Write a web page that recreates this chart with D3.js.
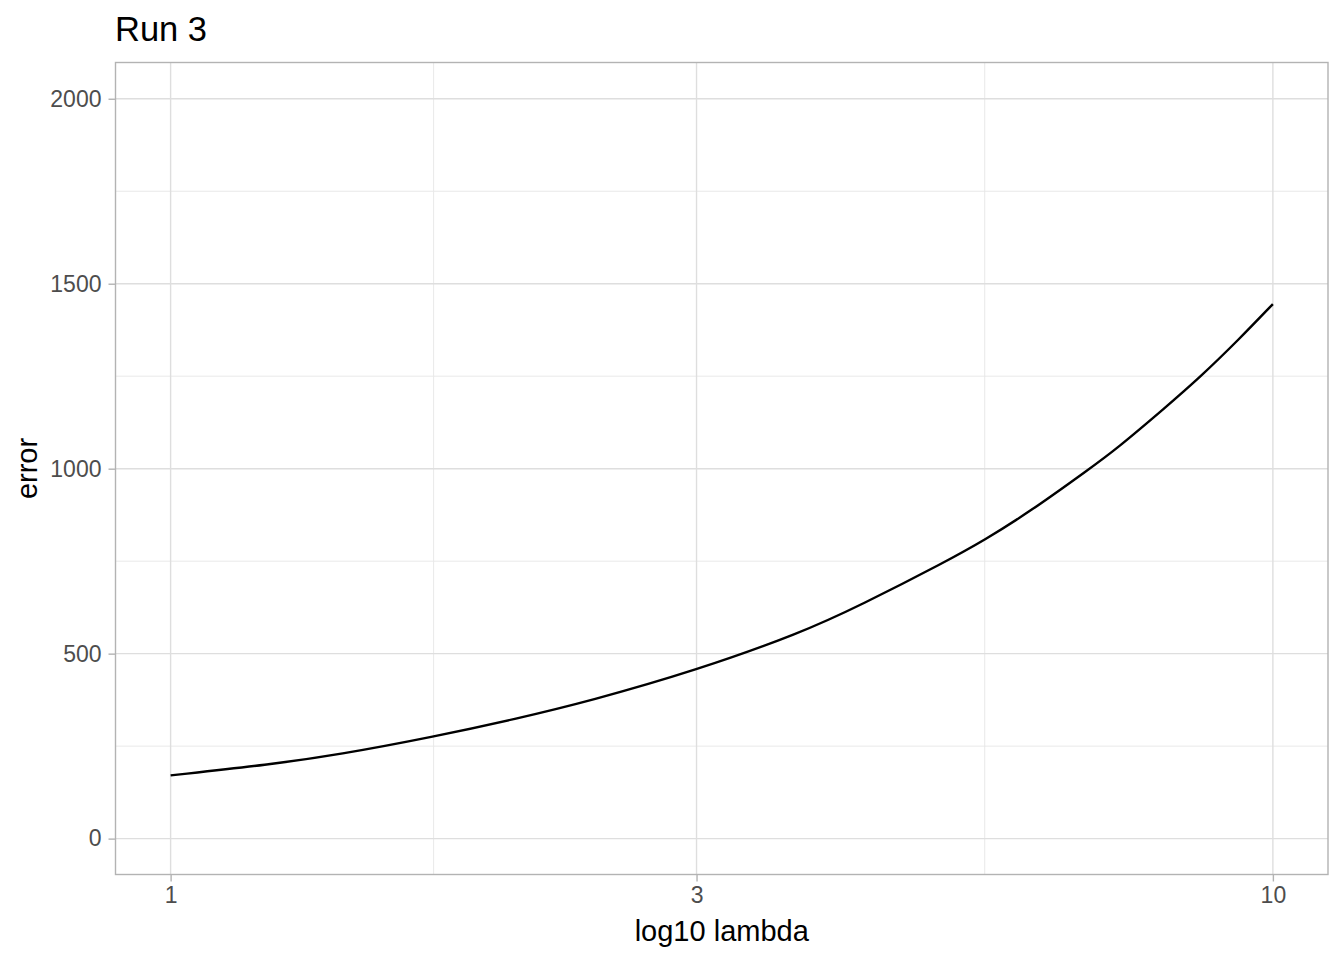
<!DOCTYPE html>
<html>
<head>
<meta charset="utf-8">
<script src="https://cdn.jsdelivr.net/npm/d3@7"></script>
<style>
  body { margin: 0; background: #fff; }
  text { font-family: "Liberation Sans", Arial, sans-serif; }
</style>
</head>
<body>
<div id="chart"></div>
<script>
// values
var lambdas = [1.00, 1.23, 1.42, 1.73, 2.06, 2.40, 3.00, 3.73, 4.22, 5.06, 5.48, 5.98, 6.82, 7.21, 8.00, 8.58, 9.32, 10.0];
var errors  = [171, 200, 227, 275, 324, 372, 455, 556, 630, 750, 808, 878, 1000, 1053, 1167, 1246, 1350, 1445];
var xTicks = [1, 3, 10];
var xMinor = [Math.sqrt(3), Math.sqrt(30)];
var yTicks = [0, 500, 1000, 1500, 2000];
var yMinor = [250, 750, 1250, 1750];
var title = "Run 3";
var xTitle = "log10 lambda";
var yTitle = "error";

var svgWidth = 1344;
var svgHeight = 960;

var panel = { left: 115.5, top: 62.5, right: 1328, bottom: 874.5 };

var svg = d3.select("#chart")
  .append("svg")
  .attr("width", svgWidth)
  .attr("height", svgHeight);

var data = lambdas.map(function(l, i) {
  return { lambda: l, error: errors[i] };
});

// ggplot-style 5% expansion on the log axis
var xLinearScale = d3.scaleLog()
  .domain([Math.pow(10, -0.05), Math.pow(10, 1.05)])
  .range([panel.left, panel.right]);

var yLinearScale = d3.scaleLinear()
  .domain([-97, 2098])
  .range([panel.bottom, panel.top]);

var grid = svg.append("g");

grid.selectAll(".ymin").data(yMinor).enter().append("line")
  .attr("x1", panel.left).attr("x2", panel.right)
  .attr("y1", d => yLinearScale(d)).attr("y2", d => yLinearScale(d))
  .attr("stroke", "#e6e6e6").attr("stroke-width", 0.9);

grid.selectAll(".xmin").data(xMinor).enter().append("line")
  .attr("y1", panel.top).attr("y2", panel.bottom)
  .attr("x1", d => xLinearScale(d)).attr("x2", d => xLinearScale(d))
  .attr("stroke", "#e6e6e6").attr("stroke-width", 0.9);

grid.selectAll(".ymaj").data(yTicks).enter().append("line")
  .attr("x1", panel.left).attr("x2", panel.right)
  .attr("y1", d => yLinearScale(d)).attr("y2", d => yLinearScale(d))
  .attr("stroke", "#dedede").attr("stroke-width", 1.4);

grid.selectAll(".xmaj").data(xTicks).enter().append("line")
  .attr("y1", panel.top).attr("y2", panel.bottom)
  .attr("x1", d => xLinearScale(d)).attr("x2", d => xLinearScale(d))
  .attr("stroke", "#dedede").attr("stroke-width", 1.4);

// basis curve evens out the small reading errors
var line = d3.line()
  .x(d => xLinearScale(d.lambda))
  .y(d => yLinearScale(d.error))
  .curve(d3.curveBasis);

svg.append("path")
  .datum(data)
  .attr("d", line)
  .attr("fill", "none")
  .attr("stroke", "#000")
  .attr("stroke-width", 2.4);

svg.append("rect")
  .attr("x", panel.left)
  .attr("y", panel.top)
  .attr("width", panel.right - panel.left)
  .attr("height", panel.bottom - panel.top)
  .attr("fill", "none")
  .attr("stroke", "#b3b3b3")
  .attr("stroke-width", 1.4);

// axes
var bottomAxis = d3.axisBottom(xLinearScale)
  .tickValues(xTicks)
  .tickFormat(d3.format("d"))
  .tickSize(7)
  .tickPadding(5);

var leftAxis = d3.axisLeft(yLinearScale)
  .tickValues(yTicks)
  .tickFormat(d3.format("d"))
  .tickSize(7)
  .tickPadding(7);

var xAxisG = svg.append("g")
  .attr("transform", `translate(0, ${panel.bottom})`)
  .call(bottomAxis);

var yAxisG = svg.append("g")
  .attr("transform", `translate(${panel.left}, 0)`)
  .call(leftAxis);

[xAxisG, yAxisG].forEach(function(g) {
  g.select(".domain").remove();
  g.selectAll(".tick line").attr("stroke", "#b3b3b3").attr("stroke-width", 1.4);
  g.selectAll(".tick text")
    .attr("fill", "#4d4d4d")
    .attr("font-size", "23px")
    .attr("font-family", "'Liberation Sans', Arial, sans-serif");
});

// titles
svg.append("text")
  .attr("x", 115)
  .attr("y", 40.5)
  .attr("font-size", "34.5px")
  .attr("fill", "#000")
  .text(title);

svg.append("text")
  .attr("x", (panel.left + panel.right) / 2)
  .attr("y", 940.5)
  .attr("text-anchor", "middle")
  .attr("font-size", "29px")
  .attr("fill", "#000")
  .text(xTitle);

svg.append("text")
  .attr("transform", `translate(37, ${(panel.top + panel.bottom) / 2}) rotate(-90)`)
  .attr("text-anchor", "middle")
  .attr("font-size", "29px")
  .attr("fill", "#000")
  .text(yTitle);
</script>
</body>
</html>
